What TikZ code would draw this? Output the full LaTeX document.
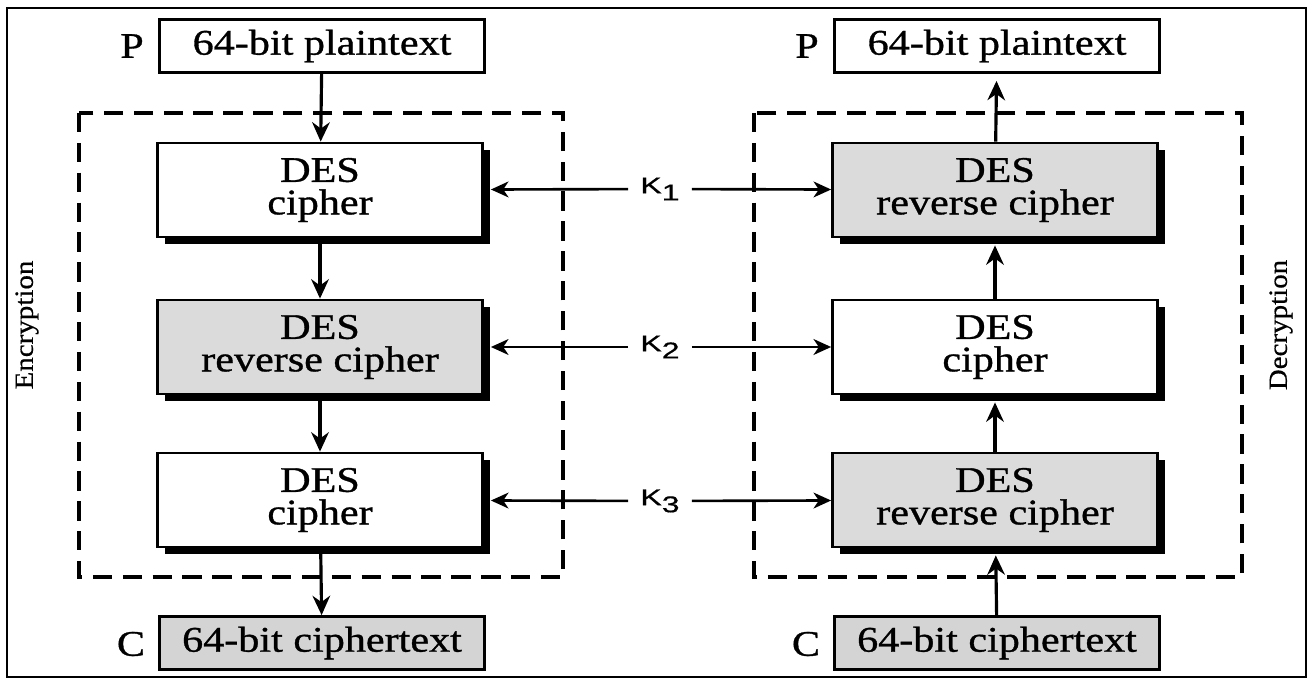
\documentclass[tikz,border=0pt]{standalone}
\usepackage{fontspec}
\setmainfont{Liberation Serif}[FakeStretch=1.17,FakeBold=0.9]
\newfontfamily\keyfont{Liberation Sans}[FakeBold=0.6]
\newfontfamily\sidefont{Liberation Serif}[FakeStretch=1.1,FakeBold=0.5]
\usetikzlibrary{arrows.meta,shadows}

\begin{document}
\begin{tikzpicture}[x=0.02cm,y=-0.02cm,
		desbox/.style={draw,line width=1.6pt,minimum width=6.5cm,minimum height=1.88cm,inner sep=0pt,align=center,
			font=\fontsize{20.5}{18.5}\selectfont,drop shadow={shadow xshift=4pt,shadow yshift=-4pt,fill=black,opacity=1}},
		iobox/.style={draw,line width=1.6pt,minimum width=6.5cm,minimum height=1.06cm,inner sep=0pt,font=\fontsize{20.5}{18.5}\selectfont},
		tag/.style={font=\fontsize{20.5}{18.5}\selectfont},
		side/.style={rotate=90,font=\sidefont\fontsize{15}{18}\selectfont},
		key/.style={minimum width=0.9cm,inner sep=0pt,font=\keyfont\fontsize{13}{14}\selectfont,xscale=1.4},
		flow/.style={line width=1.8pt,-{Stealth[length=11pt,width=10pt]}},
		keyline/.style={line width=1.5pt,-{Stealth[length=10pt,width=9pt,inset=3pt]}},
		frame/.style={draw,dash pattern=on 11pt off 6pt,line width=1.9pt}]
		\useasboundingbox (0,0) rectangle (1311,679);
		\draw[line width=1.1pt] (7,8) rectangle (1306,677);
		% the two dashed frames
		\draw[frame] (79,113) rectangle (563,577);
		\draw[frame] (754,113) rectangle (1242,577);
		\node[side](enc) at (27,325) {Encryption};
		\node[side](dec) at (1281,325) {Decryption};
		% encryption side
		\node[iobox](pl) at (322,46) {64-bit plaintext};
		\node[tag](pll) at (132,46) {P};
		\node[desbox,fill=white](l1) at (320,190) {DES\\cipher};
		\node[desbox,fill=black!14](l2) at (320,347) {DES\\reverse cipher};
		\node[desbox,fill=white](l3) at (320,500) {DES\\cipher};
		\node[iobox,fill=black!17](cl) at (322,643) {64-bit ciphertext};
		\node[tag](cll) at (131,644) {C};
		% decryption side
		\node[iobox](pr) at (997,46) {64-bit plaintext};
		\node[tag](prl) at (807,46) {P};
		\node[desbox,fill=black!14](r1) at (995,190) {DES\\reverse cipher};
		\node[desbox,fill=white](r2) at (995,347) {DES\\cipher};
		\node[desbox,fill=black!14](r3) at (995,500) {DES\\reverse cipher};
		\node[iobox,fill=black!17](cr) at (997,643) {64-bit ciphertext};
		\node[tag](crl) at (806,644) {C};
		% keys
		\node[key](k1) at (660,189) {K\raisebox{-4pt}{1}};
		\node[key](k2) at (660,347) {K\raisebox{-4pt}{2}};
		\node[key](k3) at (660,501) {K\raisebox{-4pt}{3}};
		\draw[flow] (pl) -- (l1);
		\draw[flow] (l1) -- (l2);
		\draw[flow] (l2) -- (l3);
		\draw[flow] (l3) -- (cl);
		\draw[flow,shorten >=4pt] (cr) -- (r3);
		\draw[flow,shorten >=4pt] (r3) -- (r2);
		\draw[flow,shorten >=4pt] (r2) -- (r1);
		\draw[flow,shorten >=4pt] (r1) -- (pr);
		\draw[keyline,shorten >=4pt] (k1) -- (l1);
		\draw[keyline,shorten >=4pt] (k2) -- (l2);
		\draw[keyline,shorten >=4pt] (k3) -- (l3);
		\draw[keyline] (k1) -- (r1);
		\draw[keyline] (k2) -- (r2);
		\draw[keyline] (k3) -- (r3);
	\end{tikzpicture}
\end{document}
